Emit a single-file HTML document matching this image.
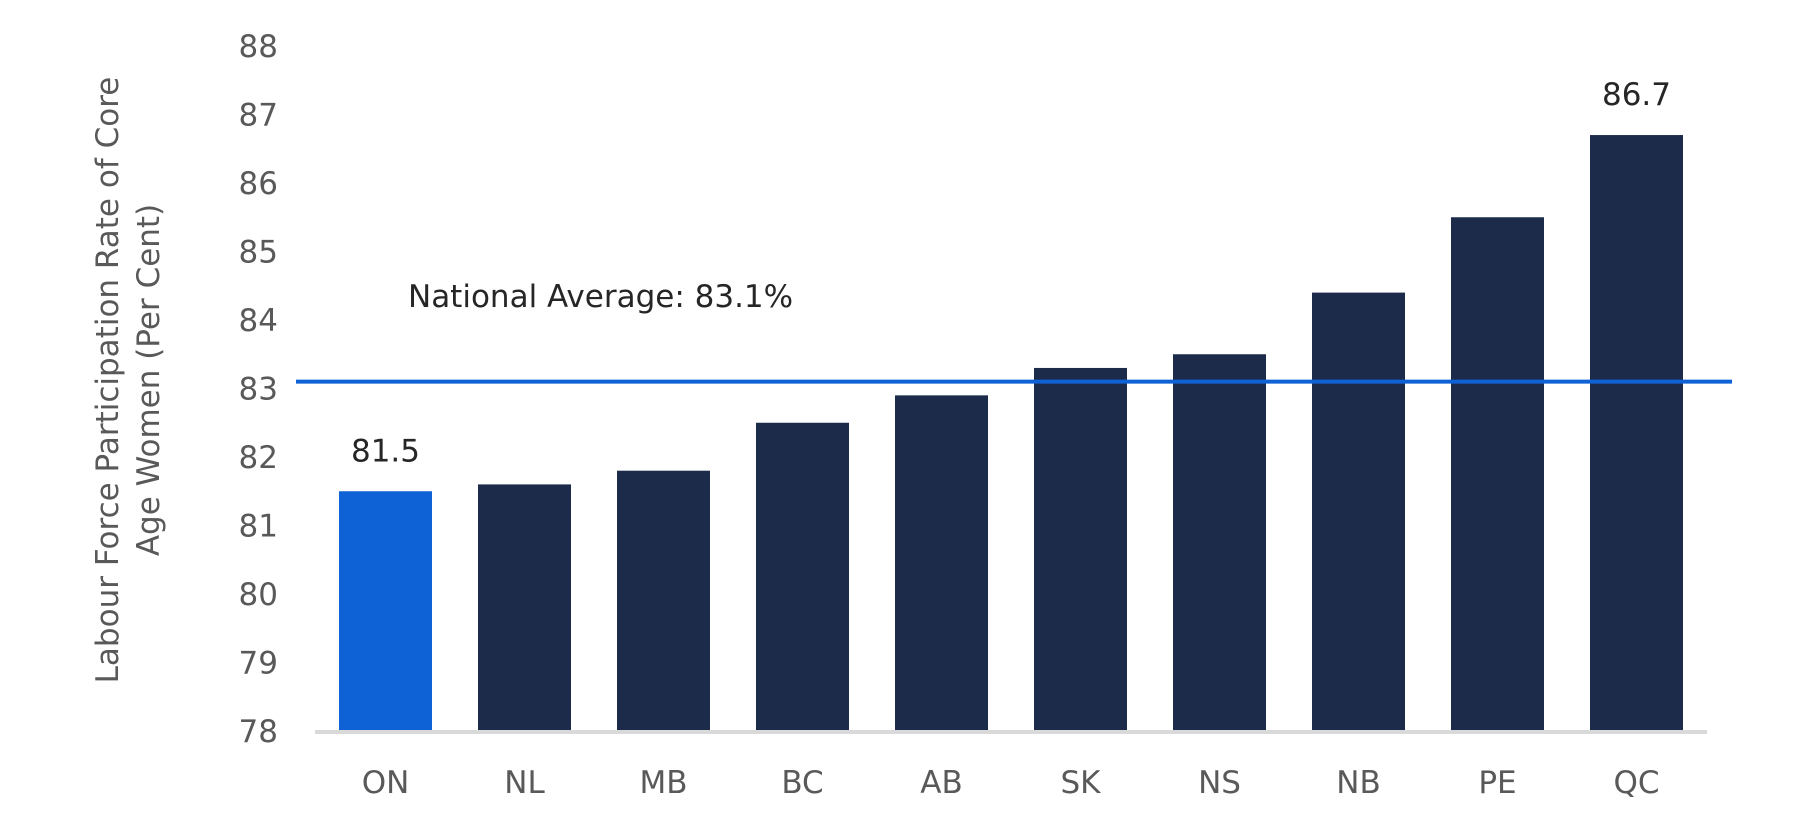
<!DOCTYPE html>
<html><head><meta charset="utf-8"><style>
html,body{margin:0;padding:0;background:#fff}
svg{display:block;font-family:"DejaVu Sans","Liberation Sans",sans-serif}
</style></head><body>
<svg id="chart" width="1808" height="830">
<text transform="translate(118,380) rotate(-90)" text-anchor="middle" font-size="31" fill="#595959">
<tspan x="0" dy="0">Labour Force Participation Rate of Core</tspan><tspan x="0" dy="41">Age Women (Per Cent)</tspan></text>
<g id="yticks"></g><g id="bars"></g><g id="xlabels"></g>
</svg>
<script>
const categories=["ON","NL","MB","BC","AB","SK","NS","NB","PE","QC"];
const values=[81.5,81.6,81.8,82.5,82.9,83.3,83.5,84.4,85.5,86.7];
const yTicks=[78,79,80,81,82,83,84,85,86,87,88];
const nationalAvg=83.1;
const labelled=[0,9];
const NS="http://www.w3.org/2000/svg";
const svg=document.getElementById('chart');
const y=v=>731-(v-78)*68.5;
const x=i=>339+i*139;
const bw=93;
function mk(t,a,p){const e=document.createElementNS(NS,t);for(const k in a)e.setAttribute(k,a[k]);(p||svg).appendChild(e);return e;}
yTicks.forEach(t=>{const e=mk('text',{x:278,y:y(t)+11,'text-anchor':'end','font-size':31,fill:'#595959'},document.getElementById('yticks'));


e.textContent=t;});
values.forEach((v,i)=>{const r=mk('rect',{x:x(i),y:y(v),width:bw,height:731-y(v),fill:i===0?'#0f62d6':'#1c2b4a'},document.getElementById('bars'));


const l=mk('text',{x:x(i)+bw/2,y:793,'text-anchor':'middle','font-size':31,fill:'#595959'},document.getElementById('xlabels'));


l.textContent=categories[i];
if(labelled.includes(i)){const d=mk('text',{x:x(i)+bw/2,y:y(v)-30,'text-anchor':'middle','font-size':31,fill:'#262626'});


d.textContent=v.toFixed(1);}});
const ax=mk('line',{x1:315,x2:1707,y1:732,y2:732,stroke:'#d9d9d9','stroke-width':4});


const avg=mk('line',{x1:296,x2:1732,y1:y(nationalAvg),y2:y(nationalAvg),stroke:'#0f62d6','stroke-width':4});


const at=mk('text',{x:408,y:307,'font-size':31,fill:'#262626'});


at.textContent='National Average: '+nationalAvg+'%';
</script>
</body></html>
